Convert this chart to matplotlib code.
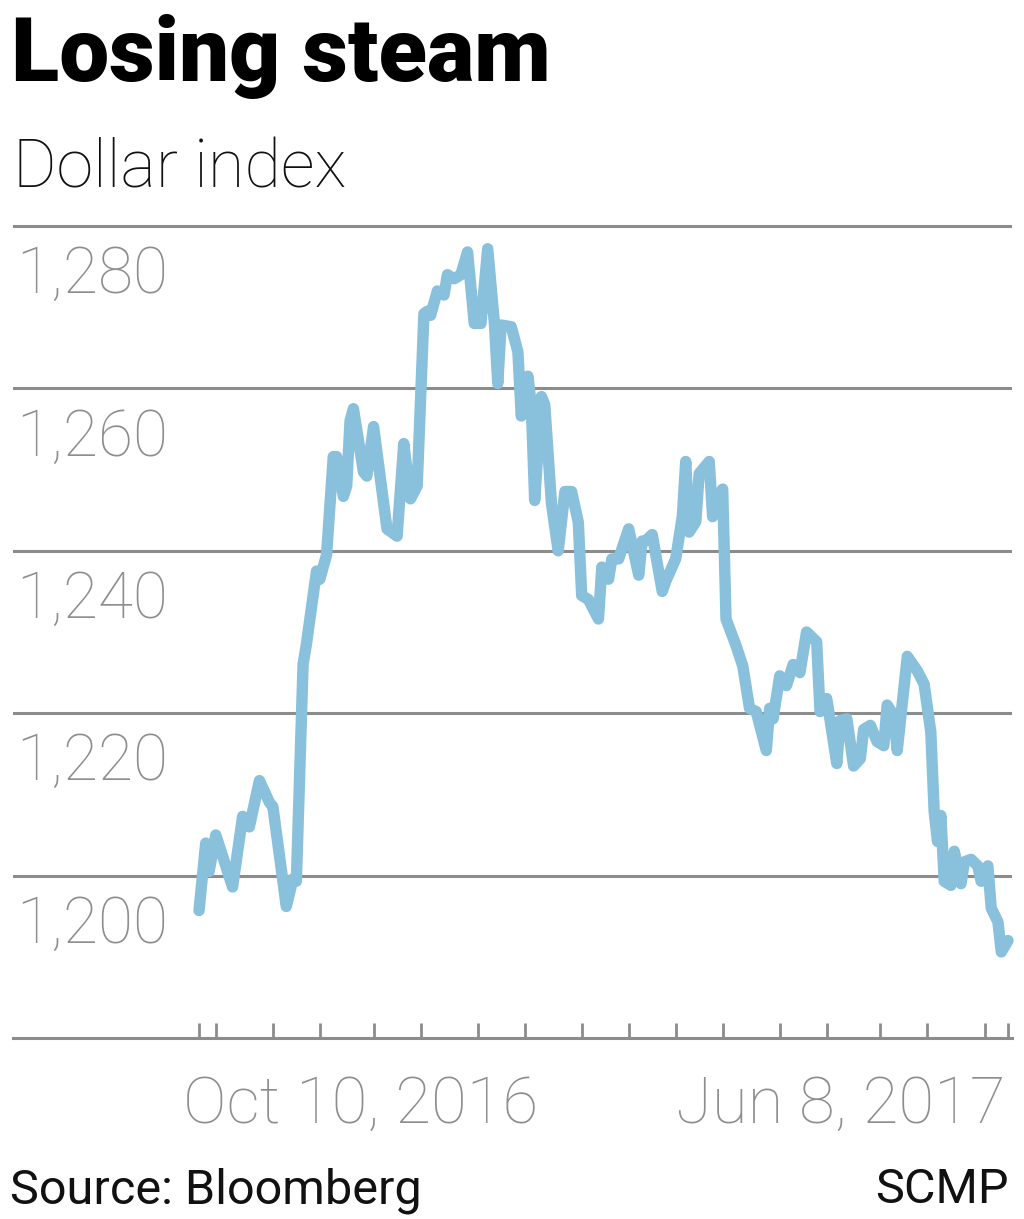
import matplotlib
matplotlib.use('Agg')
import matplotlib.pyplot as plt
import matplotlib.dates as mdates
import matplotlib.transforms as mtransforms
import pandas as pd

# values (Bloomberg dollar index)
dates = [
    '2016-10-10', '2016-10-12', '2016-10-13', '2016-10-15', '2016-10-20', '2016-10-23',
    '2016-10-25', '2016-10-28', '2016-10-31', '2016-11-01', '2016-11-05', '2016-11-07',
    '2016-11-08', '2016-11-10', '2016-11-11', '2016-11-14', '2016-11-15', '2016-11-17',
    '2016-11-19', '2016-11-20', '2016-11-22', '2016-11-23', '2016-11-24', '2016-11-25',
    '2016-11-28', '2016-11-29', '2016-12-01', '2016-12-05', '2016-12-08', '2016-12-10',
    '2016-12-12', '2016-12-14', '2016-12-16', '2016-12-17', '2016-12-18', '2016-12-20',
    '2016-12-22', '2016-12-23', '2016-12-25', '2016-12-27', '2016-12-29', '2016-12-31',
    '2017-01-02', '2017-01-04', '2017-01-06', '2017-01-07', '2017-01-08', '2017-01-11',
    '2017-01-13', '2017-01-14', '2017-01-16', '2017-01-17', '2017-01-18', '2017-01-20',
    '2017-01-21', '2017-01-23', '2017-01-25', '2017-01-27', '2017-01-29', '2017-01-31',
    '2017-02-01', '2017-02-03', '2017-02-06', '2017-02-07', '2017-02-09', '2017-02-10',
    '2017-02-12', '2017-02-15', '2017-02-18', '2017-02-19', '2017-02-20', '2017-02-22',
    '2017-02-25', '2017-02-26', '2017-03-01', '2017-03-03', '2017-03-04', '2017-03-05',
    '2017-03-07', '2017-03-08', '2017-03-11', '2017-03-12', '2017-03-13', '2017-03-15',
    '2017-03-16', '2017-03-19', '2017-03-21', '2017-03-23', '2017-03-25', '2017-03-28',
    '2017-03-29', '2017-03-30', '2017-04-01', '2017-04-03', '2017-04-05', '2017-04-07',
    '2017-04-09', '2017-04-12', '2017-04-13', '2017-04-15', '2017-04-18', '2017-04-19',
    '2017-04-21', '2017-04-23', '2017-04-25', '2017-04-26', '2017-04-28', '2017-04-30',
    '2017-05-02', '2017-05-03', '2017-05-05', '2017-05-06', '2017-05-09', '2017-05-12',
    '2017-05-14', '2017-05-16', '2017-05-17', '2017-05-18', '2017-05-19', '2017-05-20',
    '2017-05-22', '2017-05-23', '2017-05-25', '2017-05-26', '2017-05-28', '2017-05-30',
    '2017-05-31', '2017-06-02', '2017-06-03', '2017-06-05', '2017-06-06', '2017-06-07',
    '2017-06-08',
]
values = [
    1195.7, 1204.0, 1200.5, 1205.0, 1198.6, 1207.3,
    1206.0, 1211.7, 1209.0, 1208.5, 1196.2, 1199.6,
    1199.3, 1226.0, 1228.5, 1237.5, 1236.5, 1239.5,
    1251.6, 1251.6, 1246.7, 1248.0, 1256.0, 1257.5,
    1249.7, 1249.2, 1255.3, 1242.7, 1241.8, 1253.2,
    1246.4, 1248.0, 1269.2, 1269.5, 1269.0, 1272.0,
    1271.5, 1274.0, 1273.5, 1274.0, 1276.8, 1268.0,
    1268.0, 1277.2, 1268.0, 1260.6, 1267.8, 1267.6,
    1264.5, 1256.6, 1261.5, 1257.8, 1246.2, 1259.0,
    1258.0, 1245.8, 1240.0, 1247.3, 1247.3, 1243.5,
    1234.5, 1234.0, 1231.6, 1238.0, 1236.5, 1239.0,
    1239.0, 1242.7, 1237.0, 1241.2, 1241.2, 1242.0,
    1235.0, 1236.2, 1239.0, 1244.3, 1251.0, 1242.3,
    1243.6, 1249.5, 1251.0, 1244.2, 1246.4, 1247.6,
    1231.6, 1228.3, 1225.8, 1220.6, 1220.2, 1215.4,
    1220.6, 1219.3, 1224.6, 1223.4, 1226.0, 1225.0,
    1230.0, 1228.8, 1220.2, 1221.8, 1213.8, 1219.1,
    1219.3, 1213.5, 1214.4, 1218.0, 1218.5, 1216.5,
    1216.0, 1221.0, 1219.7, 1215.4, 1227.0, 1225.2,
    1223.6, 1217.7, 1207.9, 1204.2, 1207.4, 1199.3,
    1198.8, 1203.0, 1199.0, 1201.7, 1202.0, 1201.2,
    1199.3, 1201.2, 1196.0, 1194.3, 1190.6, 1191.3,
    1192.0,
]
y_ticks = [1200, 1220, 1240, 1260, 1280]
y_labels = ['1,200', '1,220', '1,240', '1,260', '1,280']
start_label = 'Oct 10, 2016'
end_label = 'Jun 8, 2017'
title = 'Losing steam'
subtitle = 'Dollar index'
source = 'Source: Bloomberg'
credit = 'SCMP'

LINE = '#89c0dc'
GRID = '#8c8c8c'
LABEL = '#8e8e8e'
FONT = ['Roboto', 'DejaVu Sans']

W, H = 1024, 1219
fig = plt.figure(figsize=(W / 100, H / 100), dpi=100)
fig.patch.set_facecolor('white')


def fx(px):
    return px / W


def fy(py):
    return 1 - py / H


# axes box in pixels: left 13, right 1012, top 210, bottom 1038
ax = fig.add_axes([fx(13), fy(1038), fx(1012) - fx(13), fy(210) - fy(1038)])

x = pd.to_datetime(dates)
start, end = x[0], x[-1]
px_per_day = (1008 - 199) / (end - start).days
ax.set_xlim(mdates.date2num(start) - (199 - 13) / px_per_day,
            mdates.date2num(end) + (1012 - 1008) / px_per_day)
px_per_unit = 162.4 / 20
ax.set_ylim(1180, 1180 + (1038 - 210) / px_per_unit)

ax.plot(x, values, color=LINE, lw=8.2, solid_joinstyle='round',
        solid_capstyle='round', clip_on=False, zorder=3)

# horizontal gridlines
ax.set_yticks(y_ticks)
ax.yaxis.grid(True, color=GRID, lw=2.2)
ax.tick_params(axis='y', length=0, labelleft=False)
ax.set_axisbelow(True)

# semi-monthly ticks plus start / end
tick_dates = [start] + list(pd.date_range('2016-10-15', '2017-06-01', freq='SMS')) + [end]
ax.set_xticks(tick_dates)
ax.tick_params(axis='x', direction='in', length=10.8, width=2, color=GRID,
               labelbottom=False)

for s in ['top', 'left', 'right']:
    ax.spines[s].set_visible(False)
ax.spines['bottom'].set_color(GRID)
ax.spines['bottom'].set_linewidth(2.2)

# y labels sit under their gridline
trans = mtransforms.blended_transform_factory(fig.transFigure, ax.transData)
trans = mtransforms.offset_copy(trans, fig=fig, y=-67, units='dots')
for v, lab in zip(y_ticks, y_labels):
    ax.text(fx(16), v, lab, transform=trans, va='baseline', ha='left',
            fontsize=46, color=LABEL, family=FONT, fontweight='light')

fig.text(fx(183), fy(1123), start_label, ha='left', va='baseline',
         fontsize=47, color=LABEL, family=FONT, fontweight='light')
fig.text(fx(1006), fy(1123), end_label, ha='right', va='baseline',
         fontsize=47, color=LABEL, family=FONT, fontweight='light')

fig.text(fx(11), fy(81), title, ha='left', va='baseline', fontsize=64,
         fontweight='heavy', color='black', family=FONT)
fig.text(fx(13), fy(187), subtitle, ha='left', va='baseline', fontsize=48,
         fontweight='light', color='#111111', family=FONT)

fig.text(fx(10), fy(1203), source, ha='left', va='baseline', fontsize=35,
         color='#111111', family=FONT)
fig.text(fx(1009), fy(1203), credit, ha='right', va='baseline', fontsize=35,
         color='#111111', family=FONT)

fig.savefig('out.png', dpi=100, facecolor='white')
